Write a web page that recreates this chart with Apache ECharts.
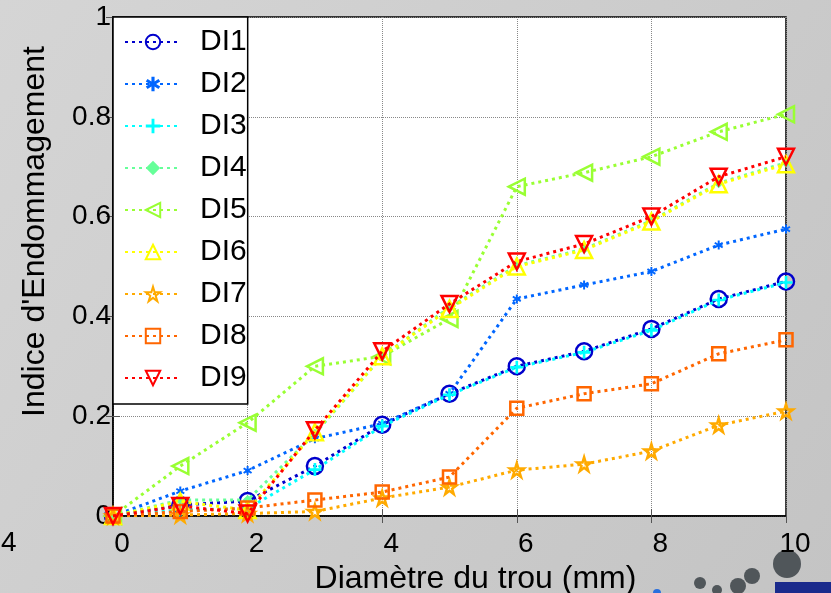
<!DOCTYPE html>
<html>
<head>
<meta charset="utf-8">
<script src="https://cdn.jsdelivr.net/npm/echarts@6/dist/echarts.min.js"></script>
<style>
html,body{margin:0;padding:0;}
#c{width:831px;height:593px;}
</style>
</head>
<body>
<div id="c"></div>
<script>
var xValues = [0, 1, 2, 3, 4, 5, 6, 7, 8, 9, 10];
var DI1 = [0, 0.022, 0.03, 0.10, 0.183, 0.245, 0.30, 0.33, 0.375, 0.435, 0.47];
var DI2 = [0, 0.05, 0.091, 0.155, 0.185, 0.245, 0.435, 0.463, 0.49, 0.543, 0.575];
var DI3 = [0, 0.012, 0.015, 0.093, 0.18, 0.243, 0.298, 0.328, 0.372, 0.433, 0.468];
var DI4 = [0, 0.032, 0.032, 0.165, 0.32, 0.418, 0.502, 0.535, 0.592, 0.667, 0.708];
var DI5 = [0, 0.10, 0.187, 0.30, 0.32, 0.395, 0.66, 0.688, 0.72, 0.77, 0.805];
var DI6 = [0, 0.029, 0.012, 0.168, 0.32, 0.415, 0.50, 0.533, 0.59, 0.665, 0.705];
var DI7 = [0, 0.002, 0.005, 0.009, 0.036, 0.058, 0.092, 0.104, 0.13, 0.182, 0.21];
var DI8 = [0, 0.009, 0.016, 0.032, 0.048, 0.078, 0.216, 0.245, 0.265, 0.325, 0.353];
var DI9 = [0, 0.02, 0.005, 0.172, 0.33, 0.425, 0.51, 0.545, 0.60, 0.68, 0.72];
var seriesNames = ['DI1','DI2','DI3','DI4','DI5','DI6','DI7','DI8','DI9'];
var seriesData = [DI1, DI2, DI3, DI4, DI5, DI6, DI7, DI8, DI9];
var xTicks = [0, 2, 4, 6, 8, 10];
var yTicks = [0, 0.2, 0.4, 0.6, 0.8, 1];

var FONT = "'Liberation Sans', Arial, sans-serif";
var colors = ['#0000cc','#0066ff','#00ffff','#66ff99','#99ff33','#ffff00','#ffaa00','#ff6600','#ff0000'];
var STAR = 'path://M50,0L61,35H98L68,57L79,91L50,70L21,91L32,57L2,35H39Z';
var PLUS = 'path://M4,0H6V4H10V6H6V10H4V6H0V4H4Z';
var ASTER = 'path://M4,0H6V3.2L8.5,1.5L9.6,3.2L7,5L9.6,6.8L8.5,8.5L6,6.8V10H4V6.8L1.5,8.5L0.4,6.8L3,5L0.4,3.2L1.5,1.5L4,3.2Z';
var markers = [
  {symbol:'circle', size:16, fill:false, rot:0},
  {symbol:ASTER, size:9, fill:true, rot:0},
  {symbol:PLUS, size:13, fill:true, rot:0},
  {symbol:'diamond', size:10, fill:true, rot:0},
  {symbol:'triangle', size:16, fill:false, rot:90},
  {symbol:'triangle', size:16, fill:false, rot:0},
  {symbol:STAR, size:14, fill:false, rot:0},
  {symbol:'rect', size:13, fill:false, rot:0},
  {symbol:'triangle', size:16, fill:false, rot:180}
];

var series = seriesNames.map(function(n, i){
  var m = markers[i];
  return {
    name: n,
    type: 'line',
    data: xValues.map(function(x, j){ return [x, seriesData[i][j]]; }),
    symbol: m.symbol,
    symbolSize: m.size,
    symbolRotate: m.rot,
    showAllSymbol: true,
    lineStyle: {color: colors[i], width: 3, type: [3, 4]},
    itemStyle: m.fill ? {color: colors[i], borderWidth: 0} :
      {color: 'rgba(255,255,255,0)', borderColor: colors[i], borderWidth: 2.5},
    z: 3 + i
  };
});

var chart = echarts.init(document.getElementById('c'));
chart.setOption({
  animation: false,
  backgroundColor: {
    type: 'linear', x: 0, y: 0, x2: 1, y2: 1,
    colorStops: [{offset: 0, color: '#d5d5d5'}, {offset: 1, color: '#c4c4c4'}]
  },
  textStyle: {fontFamily: FONT},
  grid: {left: 113, right: 45, top: 17, bottom: 77, show: true, containLabel: false,
         outerBoundsMode: 'none',
         backgroundColor: '#ffffff', borderColor: '#000', borderWidth: 1.5},
  legend: {
    data: seriesNames,
    orient: 'vertical',
    left: 113, top: 17,
    padding: [10, 1, 11, 11],
    itemGap: 12,
    itemWidth: 56,
    itemHeight: 18,
    backgroundColor: '#ffffff',
    borderColor: '#000',
    borderWidth: 1.5,
    textStyle: {fontSize: 30, color: '#000', fontFamily: FONT, padding: [0, 0, 0, 14]}
  },
  xAxis: [{
    type: 'value', min: 0, max: 10, interval: 2,
    name: 'Diamètre du trou (mm)', nameLocation: 'middle', nameGap: 45,
    nameTextStyle: {fontSize: 32, color: '#000', fontFamily: FONT, padding: [0, 0, 0, 52]},
    axisLine: {show: true, lineStyle: {color: '#000', width: 1.5}},
    axisTick: {show: true, inside: true, length: 7, lineStyle: {color: '#555'}},
    axisLabel: {fontSize: 28, color: '#000', margin: 14, padding: [0, 0, 0, 18], fontFamily: FONT},
    splitLine: {show: true, lineStyle: {color: '#888', type: 'dotted', width: 1}}
  }, {
    type: 'value', min: 0, max: 10, interval: 2, position: 'top',
    axisLine: {show: false}, axisLabel: {show: false}, splitLine: {show: false},
    axisTick: {show: true, inside: true, length: 7, lineStyle: {color: '#555'}}
  }],
  yAxis: [{
    type: 'value', min: 0, max: 1, interval: 0.2,
    name: "Indice d'Endommagement", nameLocation: 'middle', nameGap: 62,
    nameTextStyle: {fontSize: 32, color: '#000', fontFamily: FONT, padding: [0, 0, 0, 70]},
    axisLine: {show: true, lineStyle: {color: '#000', width: 1.5}},
    axisTick: {show: true, inside: true, length: 7, lineStyle: {color: '#555'}},
    axisLabel: {fontSize: 28, color: '#000', margin: 2, fontFamily: FONT,
      formatter: function(v){ return String(Math.round(v*10)/10); }},
    splitLine: {show: true, lineStyle: {color: '#888', type: 'dotted', width: 1}}
  }, {
    type: 'value', min: 0, max: 1, interval: 0.2, position: 'right',
    axisLine: {show: false}, axisLabel: {show: false}, splitLine: {show: false},
    axisTick: {show: true, inside: true, length: 7, lineStyle: {color: '#555'}}
  }],
  series: series,
  graphic: [
    {type: 'text', left: 1, top: 529, style: {text: '4', fontSize: 28, fill: '#000', fontFamily: FONT}},
    {type: 'circle', shape: {cx: 700, cy: 583, r: 6}, style: {fill: '#50565a'}},
    {type: 'circle', shape: {cx: 717, cy: 590, r: 5}, style: {fill: '#50565a'}},
    {type: 'circle', shape: {cx: 738, cy: 586, r: 8}, style: {fill: '#50565a'}},
    {type: 'circle', shape: {cx: 752, cy: 576, r: 8}, style: {fill: '#50565a'}},
    {type: 'circle', shape: {cx: 787, cy: 564, r: 14}, style: {fill: '#50565a'}},
    {type: 'circle', shape: {cx: 657, cy: 593, r: 4}, style: {fill: '#2a6fdd'}},
    {type: 'rect', shape: {x: 775, y: 582, width: 56, height: 11}, style: {fill: '#1a2a8c'}}
  ]
});
</script>
</body>
</html>
